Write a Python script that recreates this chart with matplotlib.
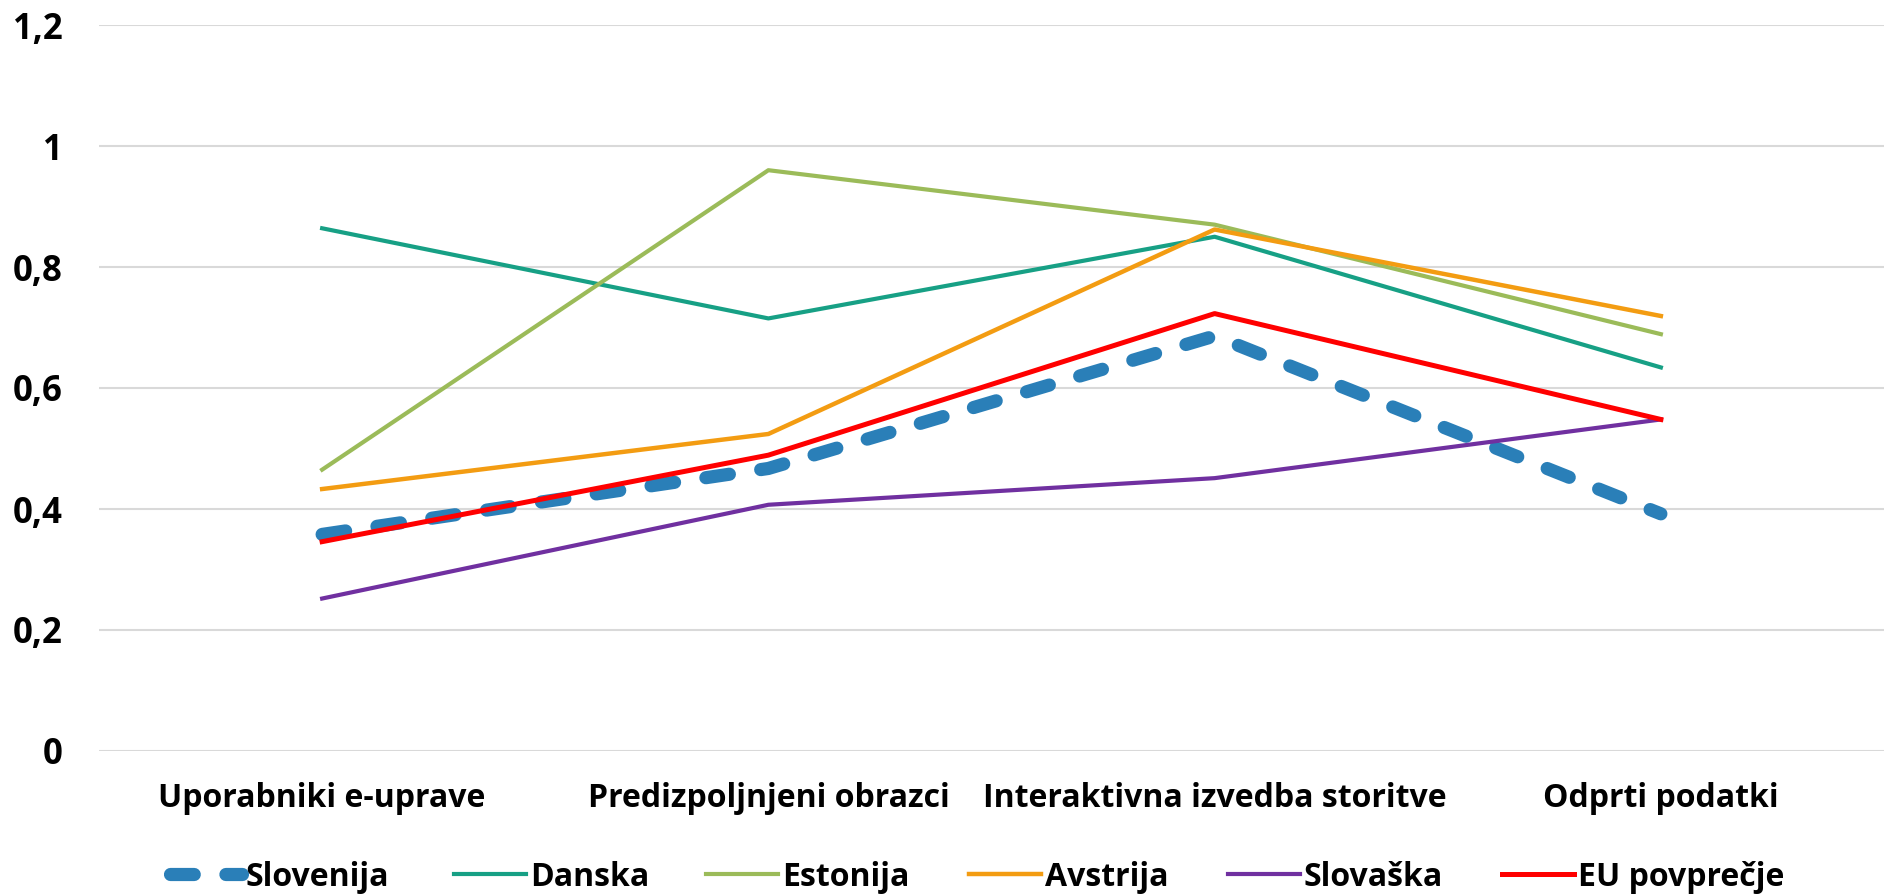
import numpy as np
import matplotlib
matplotlib.use("Agg")
import matplotlib.pyplot as plt
from matplotlib.ticker import FuncFormatter

categories = ["Uporabniki e-uprave", "Predizpoljnjeni obrazci",
              "Interaktivna izvedba storitve", "Odprti podatki"]
slovenija = [0.358, 0.467, 0.686, 0.392]
danska = [0.864, 0.715, 0.850, 0.634]
estonija = [0.465, 0.960, 0.870, 0.689]
avstrija = [0.433, 0.524, 0.862, 0.719]
slovaska = [0.252, 0.407, 0.451, 0.548]
eu = [0.346, 0.489, 0.723, 0.548]
y_ticks = [0, 0.2, 0.4, 0.6, 0.8, 1.0, 1.2]

plt.rcParams["font.family"] = ["Open Sans", "DejaVu Sans"]
plt.rcParams["font.weight"] = "bold"

fig = plt.figure(figsize=(18.84, 8.94), dpi=100)
ax = fig.add_axes([99 / 1884, 1 - 751 / 894, 1 - 99 / 1884, (751 - 25) / 894])
x = np.arange(len(categories)) + 0.5

lines = []
lines += ax.plot(x, slovenija, color="#2A7FB8", lw=9.5, dashes=(1.8, 2.4),
                 dash_capstyle="round", label="Slovenija", zorder=3)
lines += ax.plot(x, danska, color="#17A085", lw=3, label="Danska", zorder=3)
lines += ax.plot(x, estonija, color="#9BBB59", lw=3, label="Estonija", zorder=3)
lines += ax.plot(x, avstrija, color="#F39C12", lw=3.2, label="Avstrija", zorder=3)
lines += ax.plot(x, slovaska, color="#7030A0", lw=3, label="Slovaška", zorder=3)
lines += ax.plot(x, eu, color="#FF0000", lw=3.6, label="EU povprečje", zorder=4)

ax.set_xlim(0, len(categories))
ax.set_ylim(0, 1.2)
ax.set_yticks(y_ticks)
ax.yaxis.set_major_formatter(FuncFormatter(lambda v, p: f"{v:g}".replace(".", ",")))
ax.set_xticks(x)
ax.set_xticklabels(categories)
ax.tick_params(axis="both", length=0, colors="black")
ax.tick_params(axis="x", labelsize=23, pad=22)
ax.tick_params(axis="y", labelsize=25, pad=26)
ax.grid(axis="y", color="#D9D9D9", lw=1.5)
ax.set_axisbelow(True)
for s in ax.spines.values():
    s.set_visible(False)

# legend entries spread like the original (left edge of each handle, px)
leg_x = [170, 454, 706, 969, 1228, 1502]
for ln, lx in zip(lines, leg_x):
    fig.legend([ln], [ln.get_label()], loc="center left",
               bbox_to_anchor=(lx / 1884, 1 - 877 / 894), frameon=False,
               fontsize=23, handlelength=2.25, handletextpad=0.12,
               borderpad=0, borderaxespad=0)

fig.savefig("out.png", dpi=100)
